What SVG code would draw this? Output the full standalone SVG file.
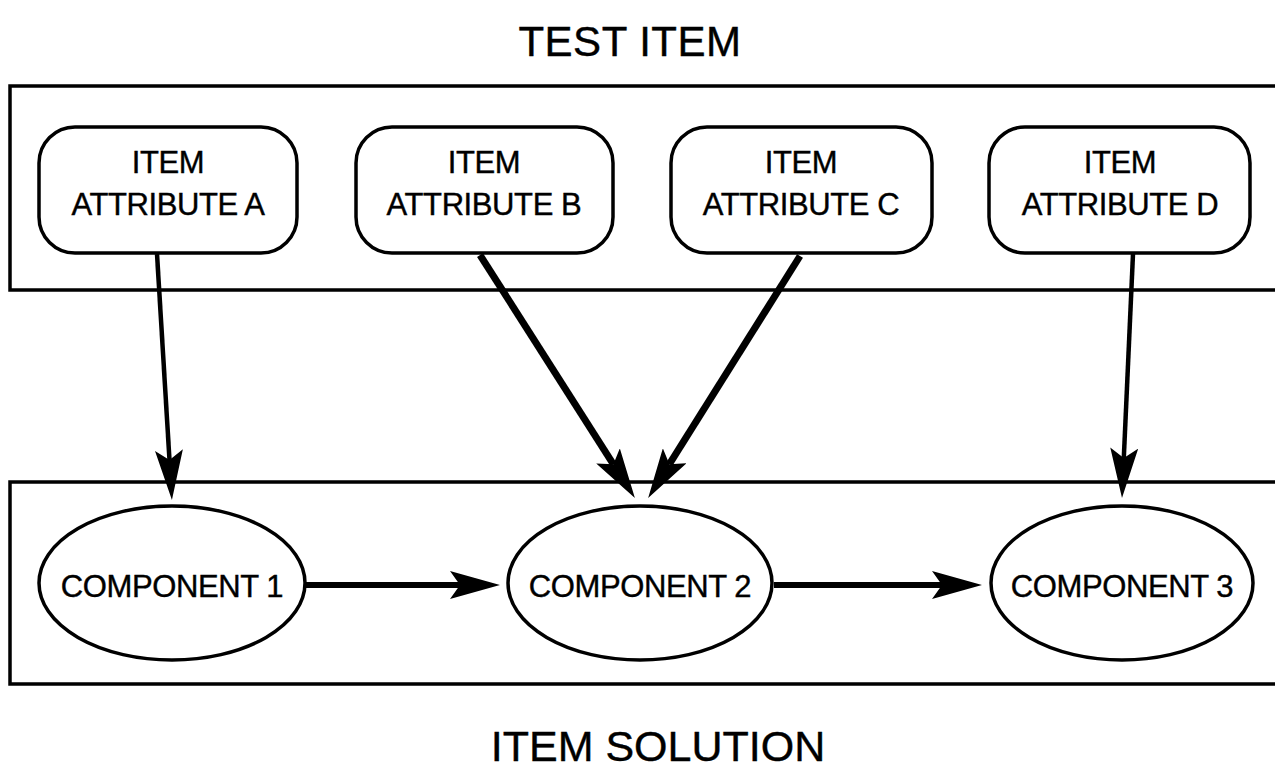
<svg xmlns="http://www.w3.org/2000/svg" width="1275" height="783" viewBox="0 0 1275 783">
<style>
  .frame{fill:none;stroke:#000;stroke-width:3.5}
  .node{fill:#fff;stroke:#000;stroke-width:3.5}
  .lbl{font-family:"Liberation Sans",Arial,Helvetica,sans-serif;font-size:31px;letter-spacing:-0.4px;fill:#000;stroke:#000;stroke-width:0.4;text-anchor:middle}
  .title{font-family:"Liberation Sans",Arial,Helvetica,sans-serif;fill:#000;stroke:#000;stroke-width:0.4;text-anchor:middle}
  .conn{fill:none;stroke:#000;stroke-linecap:butt}
</style>
<defs>
  <marker id="ah" markerUnits="userSpaceOnUse" viewBox="0 0 50 28" markerWidth="50" markerHeight="28" refX="10" refY="14" orient="auto">
    <path d="M0,0 L50,14 L0,28 L10,14 Z" fill="#000"/>
  </marker>
</defs>
<rect width="1275" height="783" fill="#fff"/>

<g id="title-test-item">
  <text class="title" x="630" y="56" font-size="42" letter-spacing="0.5">TEST ITEM</text>
</g>
<g id="test-item-frame">
  <path class="frame" d="M1280,86 L10,86 L10,290 L1280,290"/>
</g>

<g id="attr-a">
  <rect class="node" x="39" y="127" width="258" height="126" rx="36" ry="36"/>
  <text class="lbl" x="168" y="173">ITEM</text>
  <text class="lbl" x="168" y="215">ATTRIBUTE A</text>
</g>
<g id="attr-b">
  <rect class="node" x="356" y="127" width="257" height="126" rx="36" ry="36"/>
  <text class="lbl" x="484" y="173">ITEM</text>
  <text class="lbl" x="484" y="215">ATTRIBUTE B</text>
</g>
<g id="attr-c">
  <rect class="node" x="671" y="127" width="261" height="126" rx="36" ry="36"/>
  <text class="lbl" x="801" y="173">ITEM</text>
  <text class="lbl" x="801" y="215">ATTRIBUTE C</text>
</g>
<g id="attr-d">
  <rect class="node" x="989" y="127" width="261" height="126" rx="36" ry="36"/>
  <text class="lbl" x="1120" y="173">ITEM</text>
  <text class="lbl" x="1120" y="215">ATTRIBUTE D</text>
</g>

<g id="item-solution-frame">
  <path class="frame" d="M1280,482 L10,482 L10,684 L1280,684"/>
</g>

<g id="component-1">
  <ellipse class="node" cx="172" cy="583" rx="133" ry="77"/>
  <text class="lbl" x="172" y="597">COMPONENT 1</text>
</g>
<g id="component-2">
  <ellipse class="node" cx="640" cy="583" rx="132" ry="77"/>
  <text class="lbl" x="640" y="597">COMPONENT 2</text>
</g>
<g id="component-3">
  <ellipse class="node" cx="1122" cy="583" rx="131" ry="77"/>
  <text class="lbl" x="1122" y="597">COMPONENT 3</text>
</g>

<g id="connectors">
  <line class="conn" stroke-width="4.5" x1="157" y1="254" x2="169.5" y2="460" marker-end="url(#ah)"/>
  <line class="conn" stroke-width="7" x1="480" y1="255" x2="613.4" y2="464.3" marker-end="url(#ah)"/>
  <line class="conn" stroke-width="7" x1="800" y1="256" x2="669.4" y2="464.2" marker-end="url(#ah)"/>
  <line class="conn" stroke-width="4.5" x1="1133" y1="254" x2="1123.8" y2="458" marker-end="url(#ah)"/>
  <line class="conn" stroke-width="6" x1="306" y1="585" x2="460" y2="585" marker-end="url(#ah)"/>
  <line class="conn" stroke-width="6" x1="774" y1="585" x2="942" y2="585" marker-end="url(#ah)"/>
</g>

<g id="title-item-solution">
  <text class="title" x="658" y="761" font-size="43">ITEM SOLUTION</text>
</g>
</svg>
